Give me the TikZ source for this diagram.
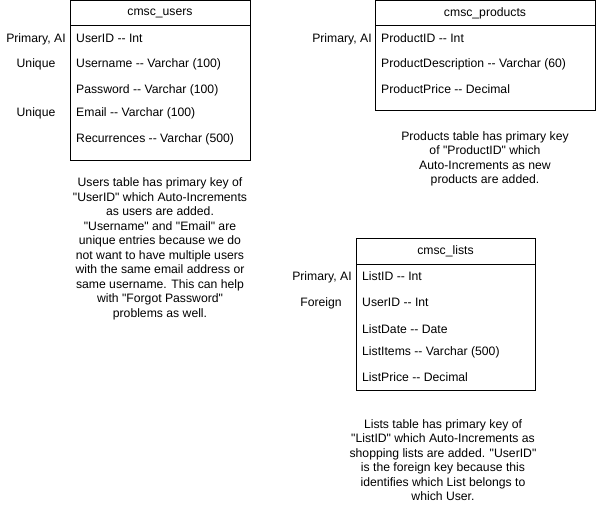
\documentclass[tikz,border=0pt]{standalone}
\usepackage{fontspec}
\newfontfamily\tablefont{Liberation Sans}
\usepackage{tikz}
\usepackage{xcolor}

\newcommand{\dsh}{-\kern0pt-}

\begin{document}
\begin{tikzpicture}[x=1pt, y=-1pt,
    every node/.style={font=\tablefont\fontsize{12.2}{14.5}\selectfont, inner sep=0pt},
    field/.style={anchor=base west},
    keyinfo/.style={anchor=base},
    note/.style={align=center}]
                \useasboundingbox (0,0) rectangle (596,508);

                %% users
                \draw[black, line width=1pt] (70,0.5) rectangle (250,160);
                \draw[black, line width=1pt] (70,26) -- (250,26);
                \node (usershead) at (160,13.5) {cmsc\_users};
                \node[field] (userid)  at (76,43)  {UserID \dsh{} Int};
                \node[field] (username) at (76,68) {Username \dsh{} Varchar (100)};
                \node[field] (password) at (76,94) {Password \dsh{} Varchar (100)};
                \node[field] (email)   at (76,116) {Email \dsh{} Varchar (100)};
                \node[field] (recur)   at (76,142) {Recurrences \dsh{} Varchar (500)};

                \node[keyinfo] (userspk) at (36,43)  {Primary, AI};
                \node[keyinfo] (usersuq) at (36,68)  {Unique};
                \node[keyinfo] (emailuq) at (36,116) {Unique};

                \node[note] (usersnote) at (160,249) {Users table has primary key of\\
                  "UserID" which Auto-Increments\\ as users are added.\\
                  "Username" and "Email" are\\ unique entries because we do\\
                  not want to have multiple users\\ with the same email address or\\
                  same username. This can help\\ with "Forgot Password"\\
                  problems as well.};

                %% products
                \draw[black, line width=1pt] (375,0.5) rectangle (595,110);
                \draw[black, line width=1pt] (375,26) -- (595,26);
                \node (prodhead) at (485,13.5) {cmsc\_products};
                \node[field] (prodid)    at (381,43) {ProductID \dsh{} Int};
                \node[field] (proddesc)  at (381,68) {ProductDescription \dsh{} Varchar (60)};
                \node[field] (prodprice) at (381,94) {ProductPrice \dsh{} Decimal};

                \node[keyinfo] (prodpk) at (342,43) {Primary, AI};

                \node[note] (prodnote) at (485,159) {Products table has primary key\\
                  of "ProductID" which\\ Auto-Increments as new\\ products are added.};

                %% lists
                \draw[black, line width=1pt] (356,238) rectangle (535,390);
                \draw[black, line width=1pt] (356,264) -- (535,264);
                \node (listshead) at (445.5,251.5) {cmsc\_lists};
                \node[field] (listid)    at (362,280) {ListID \dsh{} Int};
                \node[field] (listuser)  at (362,306) {UserID \dsh{} Int};
                \node[field] (listdate)  at (362,333) {ListDate \dsh{} Date};
                \node[field] (listitems) at (362,355) {ListItems \dsh{} Varchar (500)};
                \node[field] (listprice) at (362,381) {ListPrice \dsh{} Decimal};

                \node[keyinfo] (listspk) at (322,280) {Primary, AI};
                \node[keyinfo] (listsfk) at (321,306) {Foreign};

                \node[note] (listsnote) at (443,460) {Lists table has primary key of\\
                  "ListID" which Auto-Increments as\\ shopping lists are added. "UserID"\\
                  is the foreign key because this\\ identifies which List belongs to\\
                  which User.};

            \end{tikzpicture}
\end{document}
